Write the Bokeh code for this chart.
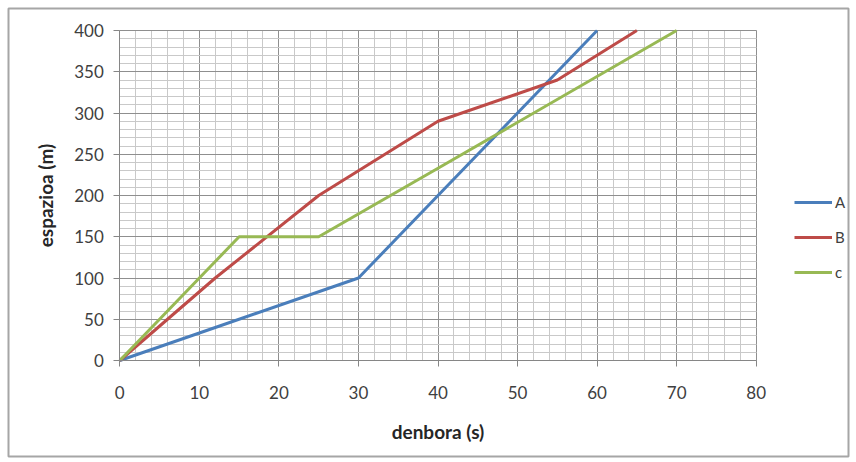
from bokeh.plotting import figure
from bokeh.models import Range1d, FixedTicker, Legend, LegendItem
from bokeh.embed import file_html
from bokeh.resources import INLINE

time_a = [0, 12, 30, 40, 50, 60]
space_a = [0, 40, 100, 200, 300, 400]
time_b = [0, 12, 25, 30, 40, 55, 65]
space_b = [0, 100, 200, 230, 290, 340, 400]
time_c = [0, 12, 15, 25, 40, 70]
space_c = [0, 120, 150, 150, 233, 400]
series_names = ["A", "B", "c"]
x_ticks = [0, 10, 20, 30, 40, 50, 60, 70, 80]
y_ticks = [0, 50, 100, 150, 200, 250, 300, 350, 400]
x_min_ticks = list(range(0, 81, 2))
y_min_ticks = list(range(0, 401, 10))

# layout: outer chart border (frame) in pixels, and inner plot area in pixels
W, H = 856, 462
OUT_L, OUT_T, OUT_R, OUT_B = 8, 8, 848, 456
IN_L, IN_T, IN_R, IN_B = 119.3, 30, 755.7, 360
X0, X1 = x_ticks[0], x_ticks[-1]
Y0, Y1 = y_ticks[0], y_ticks[-1]
sx = (IN_R - IN_L) / (X1 - X0)
sy = (IN_B - IN_T) / (Y1 - Y0)
xr = Range1d(X0 - (IN_L - OUT_L) / sx, X1 + (OUT_R - IN_R) / sx)
yr = Range1d(Y0 - (OUT_B - IN_B) / sy, Y1 + (IN_T - OUT_T) / sy)

p = figure(width=W, height=H, output_backend="svg", toolbar_location=None,
           x_range=xr, y_range=yr,
           min_border_left=OUT_L, min_border_right=W - OUT_R,
           min_border_top=OUT_T, min_border_bottom=H - OUT_B)
p.outline_line_color = "#a6a6a6"
p.outline_line_width = 2
p.background_fill_color = "white"
p.border_fill_color = "white"

for ax in (p.xaxis[0], p.yaxis[0]):
    ax.fixed_location = 0
    ax.axis_line_color = "#868686"
    ax.major_tick_line_color = "#868686"
    ax.minor_tick_line_color = None
    ax.major_tick_in = 0
    ax.major_tick_out = 6
    ax.major_label_text_font = "Lato"
    ax.major_label_text_font_size = "17px"
    ax.major_label_text_color = "#404040"
    ax.axis_label_text_font = "Lato"
    ax.axis_label_text_font_style = "bold"
    ax.axis_label_text_font_size = "19px"
    ax.axis_label_text_color = "#262626"

p.xaxis.bounds = (X0, X1)
p.yaxis.bounds = (Y0, Y1)
p.xaxis.ticker = FixedTicker(ticks=x_ticks, minor_ticks=x_min_ticks)
p.yaxis.ticker = FixedTicker(ticks=y_ticks, minor_ticks=y_min_ticks)
p.xaxis.axis_label = "denbora (s)"
p.yaxis.axis_label = "espazioa (m)"
p.xaxis.major_label_standoff = 19
p.yaxis.major_label_standoff = 10
p.xaxis.axis_label_standoff = 18
p.yaxis.axis_label_standoff = 14

p.xgrid.bounds = (X0, X1)
p.ygrid.bounds = (Y0, Y1)
p.xgrid.cross_bounds = (Y0, Y1)
p.ygrid.cross_bounds = (X0, X1)
for g in (p.xgrid[0], p.ygrid[0]):
    g.grid_line_color = "#8f8f8f"
    g.grid_line_width = 1
    g.minor_grid_line_color = "#c9c9c9"
    g.minor_grid_line_width = 1

ra = p.line(time_a, space_a, line_color="#4A7EBB", line_width=3)
rb = p.line(time_b, space_b, line_color="#BE4B48", line_width=3)
rc = p.line(time_c, space_c, line_color="#98B954", line_width=3)

legend = Legend(items=[LegendItem(label=n, renderers=[r]) for n, r in zip(series_names, [ra, rb, rc])],
                location=(794 - OUT_L, OUT_B - 282), margin=0, border_line_color=None, background_fill_alpha=0,
                label_text_font="Lato", label_text_font_size="15px", label_text_color="#404040",
                glyph_width=38, glyph_height=20, label_height=20, spacing=15, padding=0, label_standoff=3)
p.add_layout(legend, "center")

open("out.html", "w").write(file_html(p, INLINE))
